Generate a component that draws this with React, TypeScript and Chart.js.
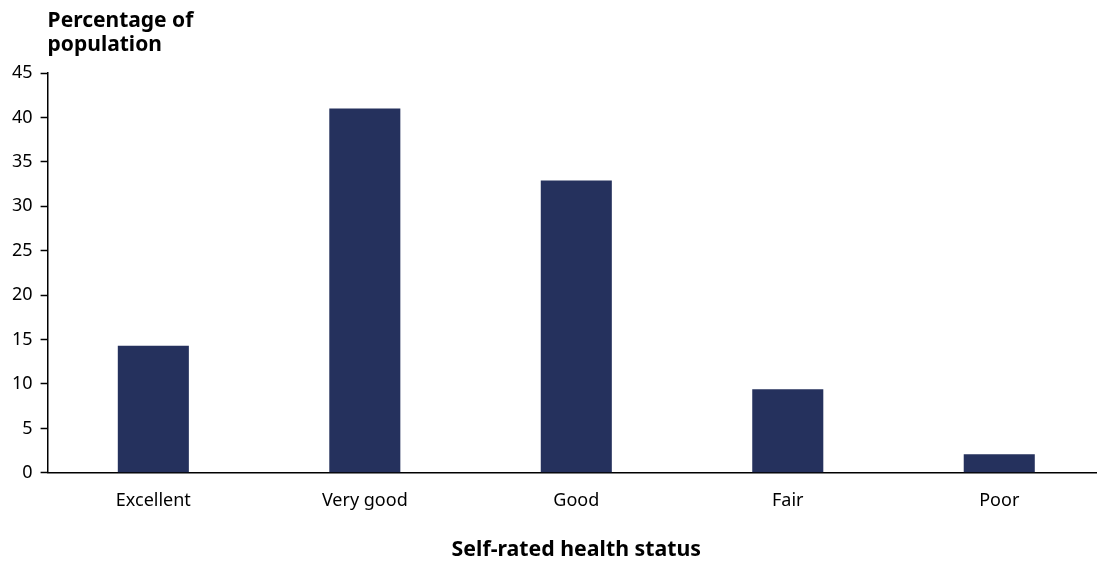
import React, { useEffect, useRef } from 'react';
import { Chart, registerables } from 'chart.js';

Chart.register(...registerables);

const categories = ['Excellent', 'Very good', 'Good', 'Fair', 'Poor'];
const values = [14.3, 41.0, 32.9, 9.4, 2.1];
const yMin = 0;
const yMax = 45;
const yStep = 5;
const yTitleLines = ['Percentage of', 'population'];
const xTitle = 'Self-rated health status';
const barColor = '#25315d';
const FONT = '"Noto Sans", "Open Sans", sans-serif';

const topTitlePlugin = {
  id: 'topTitle',
  afterDraw(chart: any) {
    const ctx = chart.ctx;
    ctx.save();
    ctx.font = `bold 21px ${FONT}`;
    ctx.fillStyle = '#000';
    ctx.textAlign = 'left';
    ctx.textBaseline = 'alphabetic';
    yTitleLines.forEach((line, i) => {
      ctx.fillText(line, chart.chartArea.left, 27 + i * 24);
    });
    ctx.restore();
  },
};

export default function App() {
  const ref = useRef<HTMLCanvasElement | null>(null);

  useEffect(() => {
    document.body.style.margin = '0';
    if (!ref.current) return;
    const chart = new Chart(ref.current, {
      type: 'bar',
      data: {
        labels: categories,
        datasets: [
          {
            data: values,
            backgroundColor: barColor,
            borderWidth: 0,
            categoryPercentage: 1,
            barPercentage: 0.336,
          },
        ],
      },
      options: {
        animation: false,
        responsive: false,
        maintainAspectRatio: false,
        layout: { padding: { top: 73, left: 4, right: 0, bottom: 0 } },
        plugins: {
          legend: { display: false },
          tooltip: { enabled: false },
          title: { display: false },
        },
        scales: {
          x: {
            offset: true,
            grid: { display: true, drawOnChartArea: false, drawTicks: false },
            border: { display: true, color: '#000', width: 1.5 },
            ticks: { color: '#000', font: { family: FONT, size: 18 }, padding: 17 },
            title: {
              display: true,
              text: xTitle,
              color: '#000',
              font: { family: FONT, size: 21.3, weight: 'bold' },
              padding: { top: 9, bottom: -2 },
            },
          },
          y: {
            min: yMin,
            max: yMax,
            grid: { display: true, drawOnChartArea: false, drawTicks: true, tickLength: 7, color: '#000', tickWidth: 1.5 },
            border: { display: true, color: '#000', width: 1.5 },
            ticks: { stepSize: yStep, color: '#000', font: { family: FONT, size: 18 }, padding: 8 },
          },
        },
      },
      plugins: [topTitlePlugin],
    });
    return () => chart.destroy();
  }, []);

  return (
    <div style={{ position: 'fixed', left: 0, top: 0, width: 1097, height: 561, overflow: 'hidden' }}>
      <canvas ref={ref} width={1105} height={561} style={{ width: 1105, height: 561, display: 'block' }} />
    </div>
  );
}
